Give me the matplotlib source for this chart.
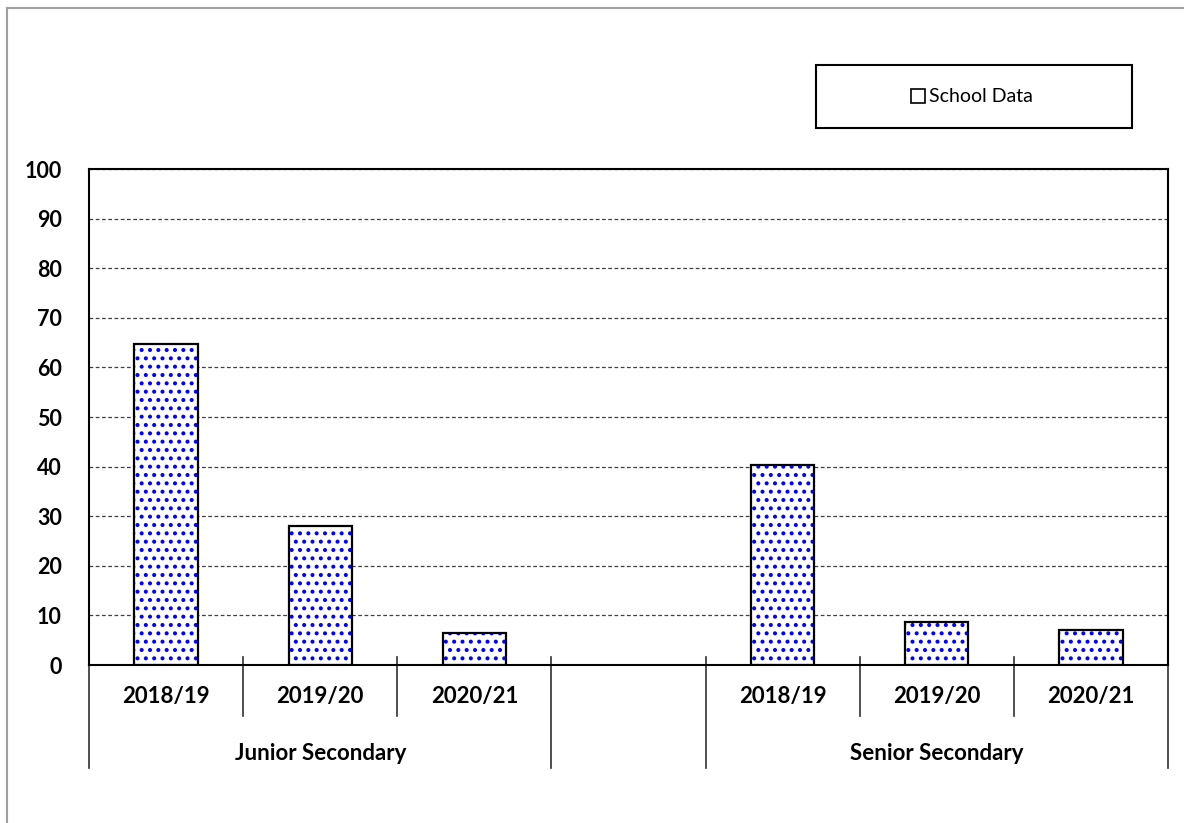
import matplotlib
matplotlib.use("Agg")
import matplotlib.pyplot as plt
import matplotlib.patches as mpatches
import matplotlib.transforms as mtransforms

plt.rcParams['font.family'] = ['Lato', 'DejaVu Sans']
plt.rcParams['hatch.linewidth'] = 1.7

# school data, percentage by year and level
years = ["2018/19", "2019/20", "2020/21"]
groups = ["Junior Secondary", "Senior Secondary"]
junior = [64.7, 28.1, 6.4]
senior = [40.3, 8.7, 7.0]
series_name = "School Data"
y_ticks = list(range(0, 101, 10))

# one empty slot between the two groups
labels = years + [""] + years
values = junior + [None] + senior
pos = list(range(len(labels)))

fig = plt.figure(figsize=(11.84, 8.23), dpi=100)
ax = fig.add_axes([89 / 1184, 1 - 665 / 823, (1168 - 89) / 1184, (665 - 169) / 823])

bx = [p for p, v in zip(pos, values) if v is not None]
bv = [v for v in values if v is not None]
ax.bar(bx, bv, width=0.41, color="white", edgecolor="#0000ff", hatch="..", linewidth=0, zorder=2)
ax.bar(bx, bv, width=0.41, fill=False, edgecolor="black", linewidth=1.6, zorder=3)

ax.set_xlim(-0.5, len(labels) - 0.5)
ax.set_ylim(0, 100)
ax.set_yticks(y_ticks)
ax.set_yticklabels([str(t) for t in y_ticks], fontsize=15.5, fontweight="bold")
ax.tick_params(axis="y", length=0, pad=19.5)
ax.set_xticks([])
ax.yaxis.grid(True, linestyle=(0, (3, 2)), color="#404040", linewidth=0.9)
ax.set_axisbelow(True)
for s in ax.spines.values():
    s.set_linewidth(1.5)
    s.set_color("black")

# two-level category axis
trans = mtransforms.blended_transform_factory(ax.transData, ax.transAxes)
px = 1 / 496
for i, lab in enumerate(labels):
    ax.text(i, -32 * px, lab, transform=trans, ha="center", va="center",
            fontsize=16, fontweight="bold")
edges = [i - 0.5 for i in range(len(labels) + 1)]
long_edges = [-0.5, 2.5, 3.5, 6.5]
for e in edges:
    if e in long_edges:
        y0, y1 = 8 * px, -103 * px
        if e in (-0.5, 6.5):
            y0 = 0
    else:
        y0, y1 = 8 * px, -51 * px
    ax.plot([e, e], [y0, y1], transform=trans, color="#303030", linewidth=1.2, clip_on=False)
ax.text(1, -88 * px, groups[0], transform=trans, ha="center", va="center",
        fontsize=16, fontweight="bold")
ax.text(5, -88 * px, groups[1], transform=trans, ha="center", va="center",
        fontsize=16, fontweight="bold")

# legend box
fig.patches.append(mpatches.Rectangle((816 / 1184, 1 - 128 / 823), (1132 - 816) / 1184, 63 / 823,
                                      transform=fig.transFigure, fill=False, edgecolor="black",
                                      linewidth=1.5))
handle = mpatches.Patch(facecolor="white", edgecolor="black", linewidth=1.2)
hatch_handle = mpatches.Patch(facecolor="white", edgecolor="#0000ff", hatch="..", linewidth=0)
fig.legend(handles=[(hatch_handle, handle)], labels=[series_name], loc="center",
           bbox_to_anchor=(972 / 1184, 1 - 97 / 823), frameon=False, fontsize=14,
           handlelength=0.75, handleheight=0.75, handletextpad=0.2)

# chart frame (top and left edges visible)
fig.add_artist(plt.Line2D([7 / 1184, 7 / 1184], [0, 1 - 8 / 823], color="#a0a0a0", linewidth=1.5))
fig.add_artist(plt.Line2D([7 / 1184, 1], [1 - 8 / 823, 1 - 8 / 823], color="#a0a0a0", linewidth=1.5))

fig.savefig("out.png", dpi=100)
